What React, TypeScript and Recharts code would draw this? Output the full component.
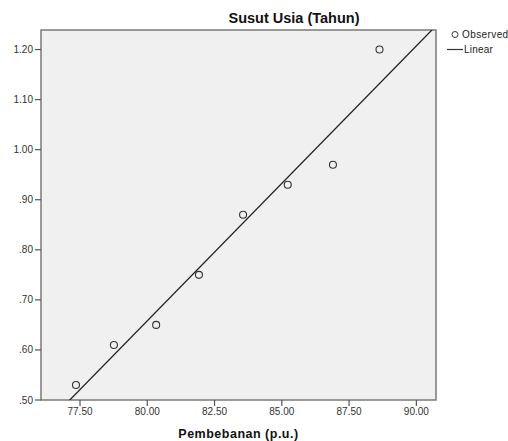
import React from 'react';
import {
  ScatterChart, Scatter, XAxis, YAxis, ReferenceArea, ReferenceLine, Customized,
} from 'recharts';

const xValues = [77.35, 78.76, 80.33, 81.92, 83.56, 85.22, 86.9, 88.63];
const yValues = [0.53, 0.61, 0.65, 0.75, 0.87, 0.93, 0.97, 1.2];
const xTicks = [77.5, 80, 82.5, 85, 87.5, 90];
const yTicks = [0.5, 0.6, 0.7, 0.8, 0.9, 1.0, 1.1, 1.2];
const xDomain: [number, number] = [76.05, 90.73];
const yDomain: [number, number] = [0.5, 1.239];
const titleText = 'Susut Usia (Tahun)';
const xLabelText = 'Pembebanan (p.u.)';
const legendLabels = ['Observed', 'Linear'];

const data = xValues.map((x, i) => ({ x, y: yValues[i] }));

// least-squares fit line (the "Linear" model)
const n = xValues.length;
const mx = xValues.reduce((a, b) => a + b, 0) / n;
const my = yValues.reduce((a, b) => a + b, 0) / n;
let sxy = 0, sxx = 0;
for (let i = 0; i < n; i++) {
  sxy += (xValues[i] - mx) * (yValues[i] - my);
  sxx += (xValues[i] - mx) ** 2;
}
const slope = sxy / sxx;
const fitAt = (x: number) => my + slope * (x - mx);

const FONT = '"Liberation Sans", Arial, sans-serif';

const fmtY = (v: number) => {
  const s = v.toFixed(2);
  return s.startsWith('0') ? s.slice(1) : s;
};

const Circle = (props: any) => {
  const { cx, cy } = props;
  return <circle cx={cx} cy={cy} r={3.5} fill="none" stroke="#333" strokeWidth={1.1} />;
};

const Overlay = () => (
  <g style={{ fontFamily: FONT }}>
    <text x={294} y={23} textAnchor="middle" fontSize={14.5} fontWeight="bold" fill="#111">
      {titleText}
    </text>
    <circle cx={455} cy={34.5} r={3} fill="none" stroke="#333" strokeWidth={1} />
    <text x={462} y={38} fontSize={10} letterSpacing={0.4} fill="#222">{legendLabels[0]}</text>
    <line x1={447} x2={463} y1={49.5} y2={49.5} stroke="#333" strokeWidth={1.2} />
    <text x={464} y={53} fontSize={10} letterSpacing={0.2} fill="#222">{legendLabels[1]}</text>
  </g>
);

export default function App() {
  return (
    <div style={{ position: 'absolute', left: 0, top: 0 }}>
      <ScatterChart
        width={508}
        height={441}
        margin={{ top: 30, right: 72, bottom: 0, left: 0 }}
        style={{ fontFamily: FONT }}
      >
        <XAxis
          type="number"
          dataKey="x"
          domain={xDomain}
          ticks={xTicks}
          allowDataOverflow
          axisLine={false}
          tickLine={{ stroke: '#555', strokeWidth: 1.2 }}
          tickSize={6}
          tickMargin={2}
          height={41}
          tick={{ fontSize: 10, fill: '#333', fontFamily: FONT }}
          tickFormatter={(v: number) => v.toFixed(2)}
          label={{
            value: xLabelText,
            position: 'insideBottom',
            offset: 3,
            style: { fontSize: 12.5, fontWeight: 'bold', fill: '#111', fontFamily: FONT, letterSpacing: 0.5 },
          }}
        />
        <YAxis
          type="number"
          dataKey="y"
          domain={yDomain}
          ticks={yTicks}
          allowDataOverflow
          axisLine={false}
          tickLine={{ stroke: '#555', strokeWidth: 1.2 }}
          tickSize={6}
          tickMargin={2}
          width={41}
          tick={{ fontSize: 10, fill: '#333', fontFamily: FONT }}
          tickFormatter={fmtY}
        />
        <ReferenceArea
          x1={xDomain[0]}
          x2={xDomain[1]}
          y1={yDomain[0]}
          y2={yDomain[1]}
          fill="#f0f0f0"
          fillOpacity={1}
          stroke="#7a7a7a"
          strokeWidth={1.5}
          ifOverflow="visible"
        />
        <ReferenceLine
          segment={[
            { x: xDomain[0], y: fitAt(xDomain[0]) },
            { x: xDomain[1], y: fitAt(xDomain[1]) },
          ]}
          stroke="#222"
          strokeWidth={1.3}
          ifOverflow="hidden"
        />
        <Scatter data={data} shape={<Circle />} isAnimationActive={false} />
        <Customized component={Overlay} />
      </ScatterChart>
    </div>
  );
}
